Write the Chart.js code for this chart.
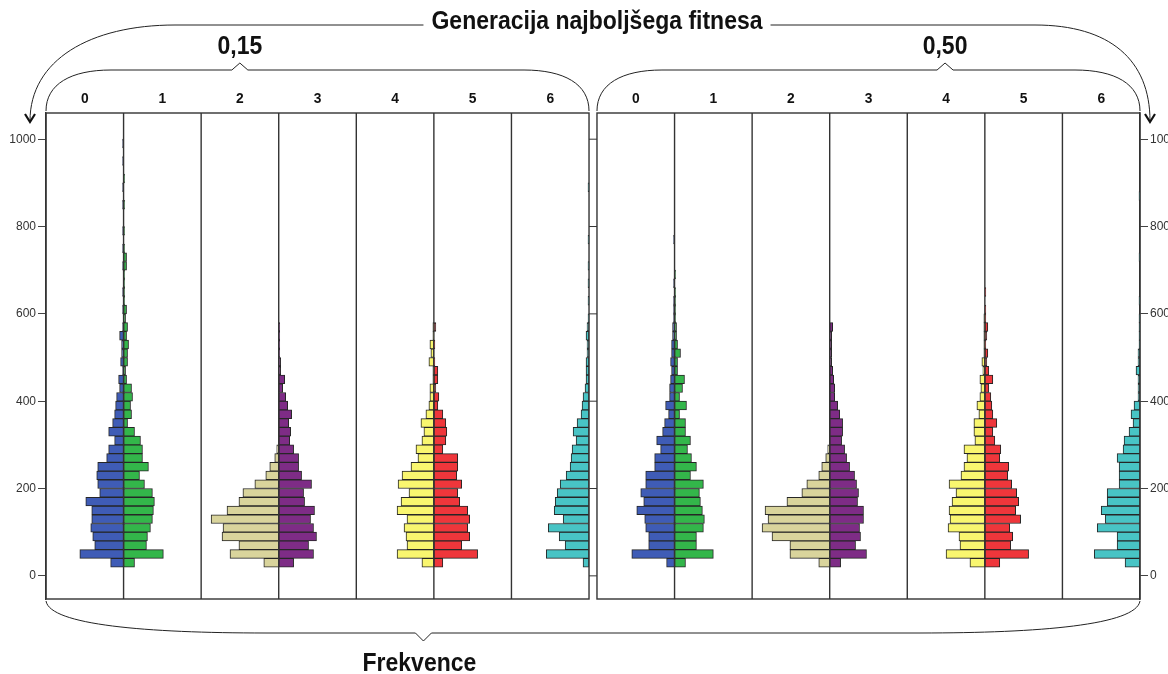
<!DOCTYPE html>
<html>
<head>
<meta charset="utf-8">
<script src="https://cdn.jsdelivr.net/npm/chart.js@4.4.1/dist/chart.umd.min.js"></script>
<style>
html, body { margin: 0; padding: 0; background: #fff; }
#wrap { width: 1168px; height: 674px; position: relative; }
</style>
</head>
<body>
<div id="wrap"><canvas id="chart"></canvas></div>
<script>
// histogram bins are 20 wide, the first one starts at 20
const BIN_START = 20;
const BIN_WIDTH = 20;
const Y_TICKS = [0, 200, 400, 600, 800, 1000];
const GENERATIONS = ['0', '1', '2', '3', '4', '5', '6'];
const PANEL_LABELS = ['0,15', '0,50'];
const TITLE = 'Generacija najboljšega fitnesa';
const X_TITLE = 'Frekvence';

// frequencies per bin (index 0 = 20-40, 1 = 40-60, ...), share 0,15
const f015_g0 = [13,44,29,31,33,32,32,38,24,26,27,26,17,15,9,15,11,9,8,7,4,5,1,3,2,2,4,1,0,1,0,1,0,0,1,0,1,0,1,0,0,1,0,1,0,0,1,0,1];
const f015_g1 = [11,40,23,24,27,29,30,31,29,21,16,25,19,19,17,11,4,8,7,9,8,3,2,4,4,5,3,4,2,3,1,1,1,1,3,3,1,0,1,0,0,1,0,0,1];
const f015_g2 = [15,49,40,57,56,68,52,40,36,24,13,9,4,2];
const f015_g3 = [15,35,30,38,35,32,36,26,25,33,23,20,20,15,11,12,10,13,9,7,4,6,2,2,1,1,1,1];
const f015_g4 = [12,37,27,28,30,27,37,33,25,36,32,23,16,18,12,10,13,8,5,4,4,1,1,5,3,4,1,1];
const f015_g5 = [9,44,28,36,34,36,34,26,24,28,23,24,24,9,12,13,12,9,4,5,2,4,4,1,0,1,0,2];
const f015_g6 = [6,43,24,30,41,26,35,34,32,29,23,19,18,17,13,16,12,8,7,6,4,3,3,3,2,2,3,2,1,0,1,0,1,0,1,0,0,1,0,0,0,0,0,1];

// share 0,50
const f050_g0 = [8,43,26,26,29,30,38,31,34,29,29,20,20,14,18,12,10,6,9,5,5,4,3,4,3,3,2,2,1,1,1,0,1,0,0,0,0,1];
const f050_g1 = [11,39,22,22,29,30,28,26,25,29,16,22,17,13,16,11,11,5,12,5,8,10,3,3,6,3,2,2,1,1,1,1,0,1];
const f050_g2 = [11,40,40,58,68,62,65,43,28,23,11,8,4,2];
const f050_g3 = [11,37,26,31,30,34,34,28,29,27,25,20,17,15,12,13,13,10,8,5,5,4,3,2,2,2,2,3];
const f050_g4 = [15,39,25,26,37,35,36,33,29,36,24,21,18,21,10,11,11,6,8,5,4,5,2,3,1,1,1,1,1];
const f050_g5 = [15,44,26,28,25,36,31,34,32,27,23,24,15,16,10,8,12,8,7,6,4,8,4,2,3,1,2,3,1,1,0,1];
const f050_g6 = [15,46,23,23,43,35,39,33,33,21,21,21,23,17,16,11,7,9,6,2,2,2,4,2,2,1,1,1,1,0,1,0,0,0,0,1,0,0,0,0,0,0,1];

const GEN_COLORS = ['#3f5cb6', '#33b64a', '#d9d49c', '#7e2c86', '#f9f66f', '#ef363b', '#48c4c5'];

const panels = [
    [f015_g0, f015_g1, f015_g2, f015_g3, f015_g4, f015_g5, f015_g6],
    [f050_g0, f050_g1, f050_g2, f050_g3, f050_g4, f050_g5, f050_g6]
];

// layout of the frequency axis: 7 columns per panel, small gap between panels
const COL = 78;
const GAP = 8;
const PANEL_W = 7 * COL + GAP;
const FONT = '"Liberation Sans", Arial, sans-serif';

Chart.defaults.font.family = FONT;

const datasets = [];
panels.forEach((series, p) => {
    const offset = p * PANEL_W;
    series.forEach((vals, g) => {
        // even generations grow to the left, odd ones to the right
        const toLeft = g % 2 === 0;
        const anchor = offset + (toLeft ? g + 1 : g) * COL;
        const data = [];
        vals.forEach((v, k) => {
            if (!v) return;
            const mid = BIN_START + k * BIN_WIDTH + BIN_WIDTH / 2;
            data.push({ y: mid, x: toLeft ? [anchor - v, anchor] : [anchor, anchor + v] });
        });
        datasets.push({
            label: PANEL_LABELS[p] + ' - ' + GENERATIONS[g],
            data: data,
            backgroundColor: GEN_COLORS[g],
            borderColor: '#262626',
            borderWidth: 1,
            borderSkipped: false,
            grouped: false,
            barPercentage: 1,
            categoryPercentage: 1
        });
    });
});

function line(ctx, x1, y1, x2, y2) {
    ctx.beginPath();
    ctx.moveTo(x1, y1);
    ctx.lineTo(x2, y2);
    ctx.stroke();
}

// bold label, slightly condensed like the original
function label(ctx, text, x, y, size) {
    ctx.save();
    ctx.translate(x, y);
    ctx.scale(0.92, 1);
    ctx.font = 'bold ' + size + 'px ' + FONT;
    ctx.textAlign = 'center';
    ctx.textBaseline = 'middle';
    ctx.fillText(text, 0, 0);
    const w = ctx.measureText(text).width * 0.92;
    ctx.restore();
    return w;
}

function arrowHead(ctx, x, y) {
    ctx.save();
    ctx.lineWidth = 2.2;
    ctx.beginPath();
    ctx.moveTo(x - 5, y - 8);
    ctx.lineTo(x, y);
    ctx.lineTo(x + 5, y - 8);
    ctx.stroke();
    ctx.restore();
}

const frames = {
    id: 'frames',
    afterDatasetsDraw(chart) {
        const { ctx, chartArea: a, scales: { x, y } } = chart;
        ctx.save();
        ctx.strokeStyle = '#333';
        ctx.fillStyle = '#111';
        ctx.lineWidth = 1.4;
        const braceTips = [0.357, 0.641];

        for (let p = 0; p < 2; p++) {
            const off = p * PANEL_W;
            const l = x.getPixelForValue(off);
            const r = x.getPixelForValue(off + 7 * COL);
            ctx.strokeRect(l, a.top, r - l, a.bottom - a.top);
            for (let c = 1; c < 7; c++) {
                const px = x.getPixelForValue(off + c * COL);
                line(ctx, px, a.top, px, a.bottom);
            }

            // generation labels on top of each column
            for (let c = 0; c < 7; c++) {
                label(ctx, GENERATIONS[c], x.getPixelForValue(off + (c + 0.5) * COL), a.top - 14, 15);
            }

            // brace over the panel
            const tip = l + (r - l) * braceTips[p];
            const by = a.top - 43;
            ctx.save();
            ctx.lineWidth = 1;
            ctx.strokeStyle = '#222';
            ctx.beginPath();
            ctx.moveTo(l, a.top - 2);
            ctx.bezierCurveTo(l, by + 14, l + 25, by, l + 65, by);
            ctx.lineTo(tip - 8, by);
            ctx.lineTo(tip, by - 7);
            ctx.lineTo(tip + 8, by);
            ctx.lineTo(r - 65, by);
            ctx.bezierCurveTo(r - 25, by, r, by + 14, r, a.top - 2);
            ctx.stroke();
            ctx.restore();

            label(ctx, PANEL_LABELS[p], tip, by - 23, 25);
        }

        // tick marks in the gap between the two panels
        const gl = x.getPixelForValue(7 * COL);
        const gr = x.getPixelForValue(7 * COL + GAP);
        ctx.lineWidth = 1;
        Y_TICKS.forEach(v => {
            const py = y.getPixelForValue(v);
            line(ctx, gl, py, gr, py);
        });

        // main title with the arrows to both y axes
        const left = a.left;
        const right = a.right;
        const tx = 597;
        const ty = 22;
        const tw = label(ctx, TITLE, tx, ty, 25);
        ctx.lineWidth = 1;
        ctx.strokeStyle = '#222';
        ctx.beginPath();
        ctx.moveTo(tx - tw / 2 - 8, ty + 3);
        ctx.lineTo(175, ty + 3);
        ctx.bezierCurveTo(90, ty + 3, left - 16, 60, left - 16, a.top + 8);
        ctx.stroke();
        ctx.beginPath();
        ctx.moveTo(tx + tw / 2 + 8, ty + 3);
        ctx.lineTo(1035, ty + 3);
        ctx.bezierCurveTo(1110, ty + 3, right + 10, 60, right + 10, a.top + 8);
        ctx.stroke();
        ctx.strokeStyle = '#111';
        arrowHead(ctx, left - 16, a.top + 9);
        arrowHead(ctx, right + 10, a.top + 9);

        // brace under both panels
        const bb = a.bottom + 34;
        const bTip = left + (right - left) * 0.345;
        ctx.strokeStyle = '#222';
        ctx.beginPath();
        ctx.moveTo(left, a.bottom + 2);
        ctx.bezierCurveTo(left + 4, bb - 8, left + 100, bb, left + 220, bb);
        ctx.lineTo(bTip - 8, bb);
        ctx.lineTo(bTip, bb + 8);
        ctx.lineTo(bTip + 8, bb);
        ctx.lineTo(right - 220, bb);
        ctx.bezierCurveTo(right - 100, bb, right - 4, bb - 8, right, a.bottom + 2);
        ctx.stroke();

        label(ctx, X_TITLE, bTip - 4, a.bottom + 65, 25);
        ctx.restore();
    }
};

function yAxis(position, width) {
    return {
        type: 'linear',
        position: position,
        min: -53,
        max: 1060,
        offset: false,
        afterBuildTicks: axis => { axis.ticks = Y_TICKS.map(v => ({ value: v })); },
        afterFit: axis => { axis.width = width; },
        ticks: {
            color: '#333',
            font: { size: 12 },
            padding: 2,
            callback: v => String(v)
        },
        grid: { drawOnChartArea: false, offset: false, tickLength: 8, color: '#444' },
        border: { color: '#333', width: 1.4 }
    };
}

new Chart(document.getElementById('chart'), {
    type: 'bar',
    data: { datasets: datasets },
    options: {
        indexAxis: 'y',
        responsive: true,
        maintainAspectRatio: false,
        animation: false,
        events: [],
        layout: { padding: { left: 6, right: 0, top: 113, bottom: 75 } },
        plugins: {
            legend: { display: false },
            tooltip: { enabled: false }
        },
        scales: {
            x: { type: 'linear', display: false, min: 0, max: 14 * COL + GAP },
            y: yAxis('left', 40),
            y2: yAxis('right', 28)
        }
    },
    plugins: [frames]
});
</script>
</body>
</html>
